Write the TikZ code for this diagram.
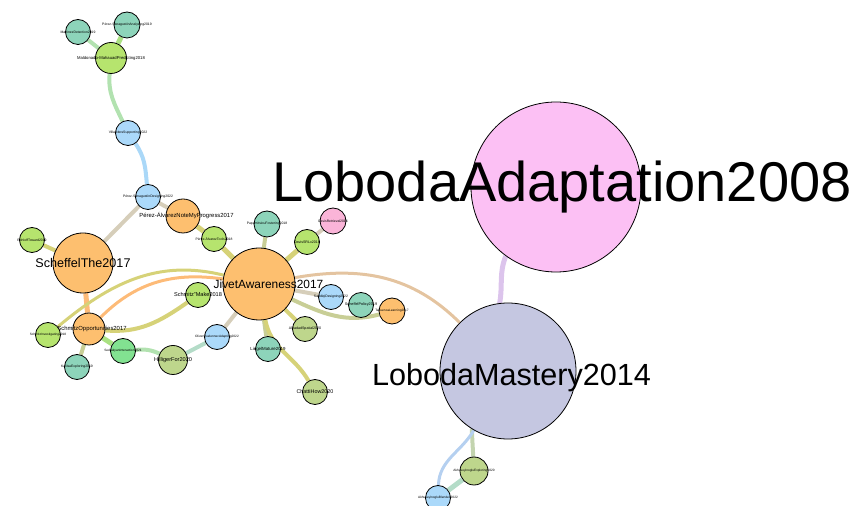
\documentclass[tikz,border=0pt]{standalone}
\usepackage{fontspec}
\setmainfont{Liberation Sans}
\pgfdeclarelayer{edges}
\pgfsetlayers{edges,main}
\definecolor{orangeN}{RGB}{253,191,111}
\definecolor{pinkN}{RGB}{252,192,244}
\definecolor{lavN}{RGB}{197,199,225}
\definecolor{ygN}{RGB}{182,228,110}
\definecolor{tealN}{RGB}{141,212,186}
\definecolor{blueN}{RGB}{171,217,250}
\definecolor{rosaN}{RGB}{250,180,216}
\definecolor{oliveN}{RGB}{190,214,140}
\definecolor{greenN}{RGB}{130,226,145}
\definecolor{eLG}{RGB}{178,226,176}
\definecolor{eG}{RGB}{170,225,130}
\definecolor{eBlue}{RGB}{170,216,248}
\definecolor{eTan}{RGB}{214,206,186}
\definecolor{eYel}{RGB}{214,210,120}
\definecolor{eOr}{RGB}{253,187,120}
\definecolor{ePeach}{RGB}{228,196,160}
\definecolor{eLav}{RGB}{220,196,236}
\definecolor{eSage}{RGB}{195,212,175}
\definecolor{eLB}{RGB}{181,208,240}
\definecolor{eTeal}{RGB}{180,220,200}
\definecolor{eOl}{RGB}{200,206,150}
% name, x, y, radius, fill, font size, label shift options, label
\newcommand{\gn}[8]{%
  \node[gnode, fill=#5, minimum size=#4*2pt] (#1) at (#2,#3) {};
  \node[inner sep=0pt, font=\fontsize{#6}{#6}\selectfont, #7] (#1-l) at (#1) {#8};}
\begin{document}
\begin{tikzpicture}[x=1pt,y=1pt,
  gnode/.style={circle, draw=black, line width=0.8pt, inner sep=0pt},
  edge/.style={line width=4pt},
  thinedge/.style={line width=3pt},
  thickedge/.style={line width=5pt}]
\useasboundingbox (0,0) rectangle (857,506);
% nodes (x, y measured from bottom)
\gn{mart}{78}{474}{12.5}{tealN}{3.4}{}{MartinezDetection2019}
\gn{punf}{127}{481}{13}{tealN}{3.4}{}{Pérez-SanagustínAnalyzing2019}
\gn{mald}{111}{448}{15.5}{ygN}{4.2}{}{Maldonado-MahauadPredicting2018}
\gn{vill}{128}{373}{12.5}{blueN}{3.4}{}{VillalobosSupporting2022}
\gn{psan}{148}{309}{12.5}{blueN}{3.4}{}{Pérez-SanagustínDesigning2022}
\gn{pnote}{183}{290}{17}{orangeN}{5.9}{xshift=3.5pt}{Pérez-ÁlvarezNoteMyProgress2017}
\gn{ptools}{214}{267}{12.5}{ygN}{3.4}{}{Pérez-ÁlvarezTools2018}
\gn{papa}{267}{282}{13}{tealN}{3.4}{}{PapamitsiouFostering2018}
\gn{dret}{333}{285}{13}{rosaN}{3.4}{}{DavisRetrieval2016}
\gn{dsrl}{307}{264}{12.5}{ygN}{3.6}{}{DavisSRLx2018}
\gn{sthe}{83}{243}{30}{orangeN}{12.6}{}{ScheffelThe2017}
\gn{rohl}{32}{266}{12.5}{ygN}{3.4}{}{RohloffToward2019}
\gn{smake}{198}{211}{12.5}{ygN}{5.6}{}{Schmitz"Make2018}
\gn{sopp}{89}{177}{16}{orangeN}{5.9}{xshift=3pt}{SchmitzOpportunities2017}
\gn{sinv}{48}{171}{12.5}{ygN}{3.2}{}{SchmitzInvestigating2018}
\gn{kali}{77}{139}{12.5}{tealN}{3.4}{}{KaliisaExploring2019}
\gn{sedr}{123}{155}{12.5}{greenN}{3.2}{}{SedrakyanInteraction2021}
\gn{hill}{173}{146}{14.5}{oliveN}{5.6}{}{HilligerFor2020}
\gn{oliv}{217}{169}{12.5}{blueN}{3.2}{}{OliverQuelennecAdapting2022}
\gn{lmat}{268}{157}{12.5}{tealN}{4.4}{}{LiegelMature2019}
\gn{alha}{305}{177}{12.5}{oliveN}{3.6}{}{AlhadadSpatial2020}
\gn{chat}{315}{114}{12.5}{oliveN}{5.4}{}{ChattiHow2020}
\gn{sadd}{331}{209}{12.5}{blueN}{3.4}{}{SaddiqiDesigning2022}
\gn{spol}{361}{201}{12.5}{tealN}{3.8}{}{ScheffelPolicy2019}
\gn{tabu}{392}{195}{13}{orangeN}{3.2}{}{TabuencaLearning2017}
\gn{jivet}{259}{222}{36}{orangeN}{11.9}{xshift=9.5pt}{JivetAwareness2017}
\gn{lmast}{508}{135}{68}{lavN}{30.6}{xshift=3.5pt,yshift=-7pt}{LobodaMastery2014}
\gn{ladapt}{556}{319}{85}{pinkN}{56}{xshift=6pt}{LobodaAdaptation2008}
\gn{ahex}{474}{35}{14}{oliveN}{3.2}{}{AkhuseyinogluExploring2020}
\gn{ahbl}{438}{8}{12.5}{blueN}{3.2}{}{AkhuseyinogluBlended2022}
% edges
\begin{pgfonlayer}{edges}
\draw[edge, eLG] (mart) -- (mald);
\draw[thickedge, eG] (punf) -- (mald);
\draw[edge, eLG] (mald) to[out=-95,in=115] (vill);
\draw[edge, eBlue] (vill) to[out=-55,in=95] (psan);
\draw[edge, eTan] (psan) -- (pnote);
\draw[edge, eTan] (psan) -- (sthe);
\draw[thickedge, eYel] (pnote) -- (ptools);
\draw[thickedge, eYel] (ptools) -- (jivet);
\draw[edge, eOl] (papa) -- (jivet);
\draw[edge, eTan] (dret) -- (dsrl);
\draw[thickedge, eYel] (dsrl) -- (jivet);
\draw[edge, eYel] (rohl) -- (sthe);
\draw[thickedge, eOr] (sthe) -- (sopp);
\draw[thinedge, eOr] (sopp) to[out=45,in=172] (jivet);
\draw[thinedge, eYel] (sinv) to[out=40,in=166] (jivet);
\draw[edge, eYel] (smake) to[out=215,in=-5] (sopp);
\draw[edge, eOl] (sopp) -- (kali);
\draw[thickedge, eG] (sopp) -- (sedr);
\draw[edge, eLG] (sedr) to[bend left=15] (hill);
\draw[edge, eTeal] (hill) -- (oliv);
\draw[edge, eTan] (oliv) -- (jivet);
\draw[edge, eOl] (jivet) -- (lmat);
\draw[edge, eYel] (jivet) to[out=-80,in=120] (chat);
\draw[edge, eYel] (jivet) -- (alha);
\draw[edge, eTan] (jivet) -- (sadd);
\draw[edge, eOl] (jivet) to[out=-25,in=195] (tabu);
\draw[thinedge, ePeach] (jivet) to[out=10,in=135] (lmast);
\draw[thickedge, eLav] (lmast.97) to[out=80,in=248] (ladapt.234);
\draw[edge, eSage] (lmast.238) -- (ahex);
\draw[thinedge, eLB] (lmast) to[out=240,in=88] (ahbl);
\draw[thickedge, eTeal] (ahex) -- (ahbl);
\end{pgfonlayer}
\end{tikzpicture}
\end{document}
